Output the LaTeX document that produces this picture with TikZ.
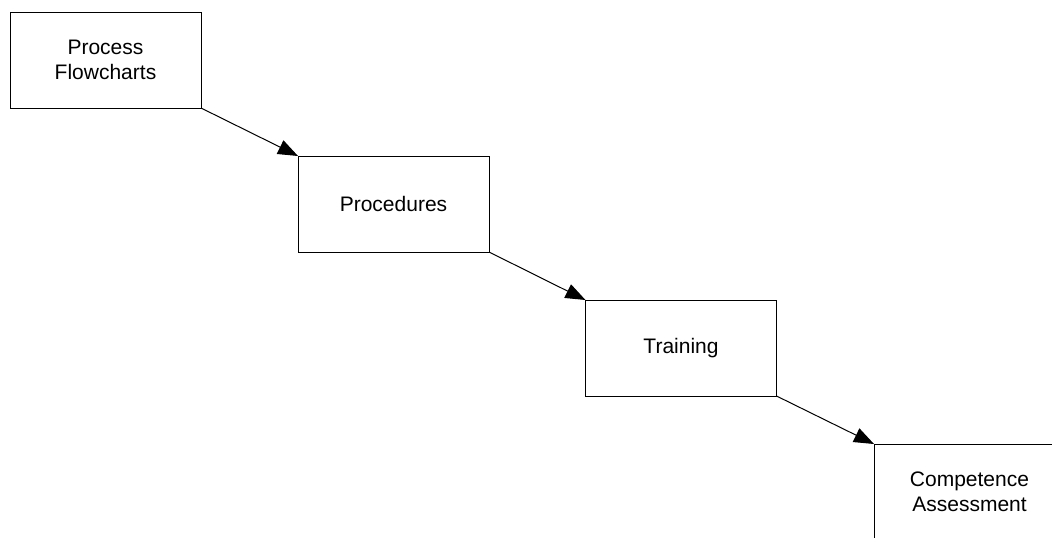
\documentclass[tikz,border=0pt]{standalone}
\usepackage{fontspec}
\setmainfont{Liberation Sans}
\usetikzlibrary{arrows.meta}
\begin{document}
\begin{tikzpicture}[x=1pt,y=-1pt,
  stepbox/.style={draw=black, line width=1pt, fill=white, minimum width=191pt, minimum height=96pt,
    inner sep=0pt, outer sep=0pt, align=center, font=\fontsize{21}{25}\selectfont},
  flow/.style={line width=1pt, -{Triangle[length=20pt,width=15pt]}}]
\useasboundingbox (0,0) rectangle (1052,538);
\clip (0,0) rectangle (1052,538);
\node[stepbox] (pf) at (105.5,60) {Process\\Flowcharts};
\node[stepbox] (pr) at (393.5,204) {Procedures};
\node[stepbox] (tr) at (681,348) {Training};
\node[stepbox] (ca) at (969.5,492) {Competence\\Assessment};
\draw[flow] (pf.south east) -- (pr.north west);
\draw[flow] (pr.south east) -- (tr.north west);
\draw[flow] (tr.south east) -- (ca.north west);
\end{tikzpicture}
\end{document}
